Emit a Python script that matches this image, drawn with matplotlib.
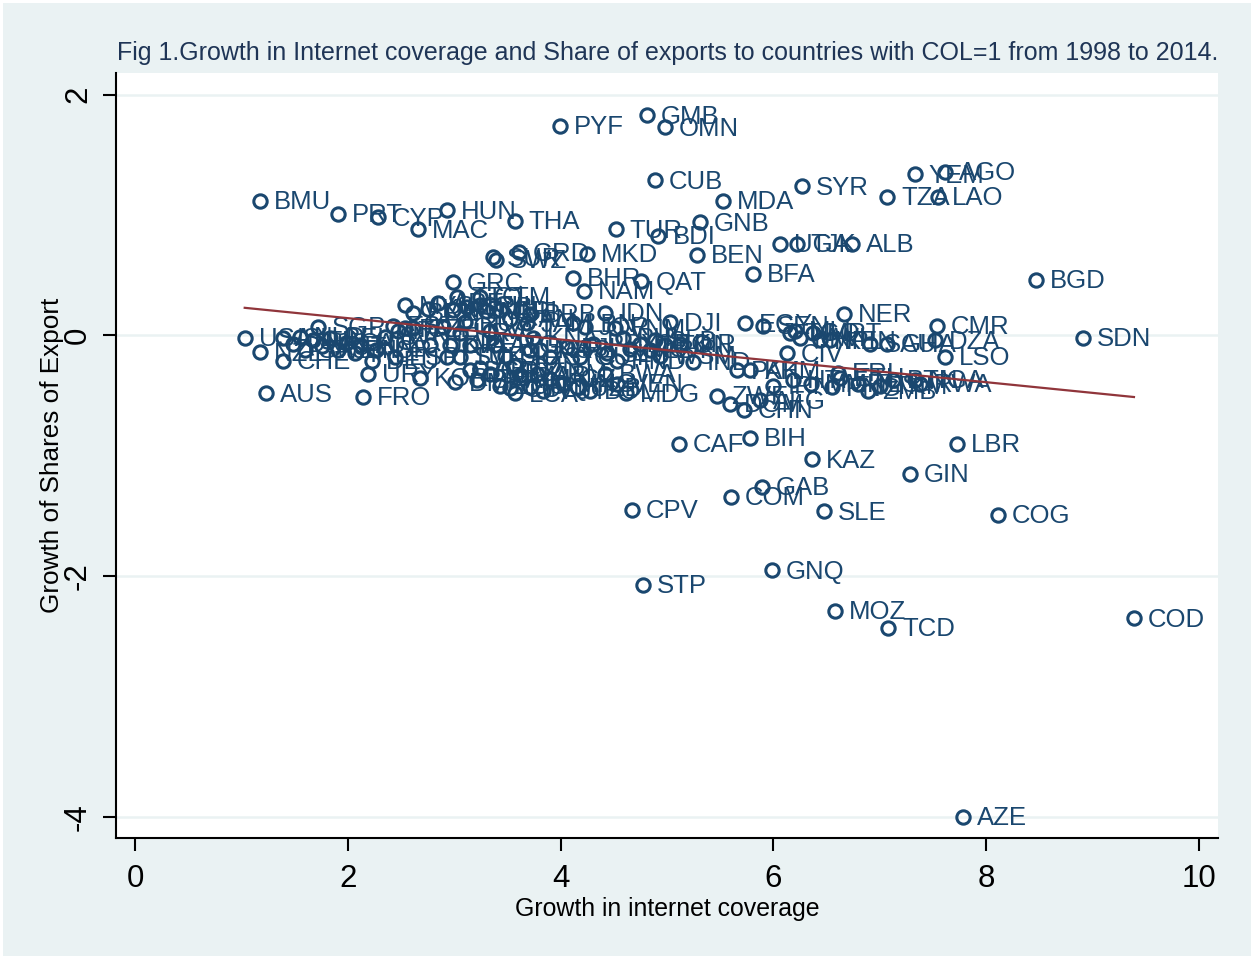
import matplotlib
matplotlib.use("Agg")
import matplotlib.pyplot as plt
import numpy as np

# Country codes with growth in internet coverage (x) and growth of export share (y)
codes = [
    "PYF", "GMB", "OMN", "CUB", "SYR", "YEM", "AGO", "TZA", "LAO", "MDA",
    "BMU", "PRT", "CYP", "MAC", "HUN", "THA", "TUR", "BDI", "GNB", "BEN",
    "UGA", "TJK", "ALB", "SUR", "SWZ", "GRD", "MKD", "BHR", "QAT", "NAM",
    "BFA", "BGD", "GRC", "NER", "CMR", "SDN", "SAU", "GHA", "DZA", "LSO",
    "CIV", "LBR", "KAZ", "GIN", "CAF", "BIH", "GAB", "COM", "CPV", "SLE",
    "COG", "GNQ", "STP", "MOZ", "TCD", "COD", "AZE", "AUS", "FRO", "USA",
    "NZL", "CHE", "SGP", "URY", "DJI", "EGY", "IND", "ZWE", "DOM", "CHN",
    "ZMB", "BWA", "MDG", "BOL", "LCA", "DMA", "KOR",
    "ISL", "DNK", "NLD", "SWE", "FIN", "AUT", "BEL", "JPN", "CAN", "IRL",
    "LUX", "ISR", "DEU", "ESP", "FRA", "ITA", "MYS", "BRN", "EST", "SVN",
    "CZE", "POL", "LVA", "LTU", "HRV", "SVK", "TTO", "GTM", "ROU", "CHL",
    "BGR", "ARG", "MEX", "BRA", "CRI", "PAN", "BRB", "JAM", "KNA", "VCT",
    "ATG", "BLZ", "TUN", "MAR", "ECU", "COL", "PER", "RUS", "UKR",
    "KWT", "ARE", "SRB", "MNE",
    "LBN", "JOR", "IDN", "VNM", "PHL", "LKA", "MUS", "SYC", "FJI", "GUY",
    "PRY", "SLV", "HND", "NIC", "GEO", "ARM", "KGZ", "MNG", "UZB", "VEN",
    "IRQ", "VUT", "SLB", "TON", "WSM", "KIR", "LBY",
    "SEN", "TGO", "MLI", "MWI", "MRT", "NPL", "KEN", "PAK", "KHM", "IRN",
    "HTI", "ETH", "ERI", "BTN", "NGA", "RWA", "AFG",
    "MMR", "PNG", "TLS", "TKM",
]

internet_growth = [
    3.99, 4.81, 4.98, 4.89, 6.27, 7.33, 7.61, 7.07, 7.55, 5.53,
    1.17, 1.91, 2.28, 2.66, 2.93, 3.57, 4.52, 4.92, 5.31, 5.28,
    6.06, 6.22, 6.74, 3.36, 3.39, 3.61, 4.25, 4.12, 4.76, 4.22,
    5.81, 8.47, 2.99, 6.66, 7.54, 8.91, 6.91, 7.07, 7.52, 7.61,
    6.13, 7.73, 6.36, 7.28, 5.11, 5.78, 5.89, 5.60, 4.67, 6.48,
    8.11, 5.99, 4.77, 6.58, 7.08, 9.39, 7.78, 1.23, 2.14, 1.03,
    1.17, 1.39, 1.72, 2.19, 5.03, 5.73, 5.24, 5.47, 5.59, 5.72,
    6.89, 4.42, 4.61, 4.28, 3.57, 3.01, 2.68,
    1.39, 1.48, 1.55, 1.60, 1.67, 1.76, 1.83, 1.91, 1.98, 2.07,
    2.11, 2.26, 2.23, 2.44, 2.54, 2.47, 2.54, 2.61, 2.42, 2.35,
    2.61, 2.89, 2.96, 2.93, 3.05, 3.05, 3.03, 3.24, 2.99, 3.24,
    3.15, 3.24, 3.34, 3.21, 3.43, 3.52, 3.71, 3.68, 3.74, 3.34,
    3.38, 3.48, 3.57, 3.62, 3.43, 3.52, 3.15, 3.10, 2.77,
    2.75, 2.85, 3.12, 3.30,
    4.12, 4.23, 4.42, 4.51, 4.59, 3.71, 3.81, 3.90, 4.06, 4.18,
    4.30, 4.44, 4.53, 4.65, 4.75, 3.78, 3.90, 4.02, 4.15, 4.53,
    3.71, 3.83, 4.89, 4.98, 4.93, 5.12, 4.84,
    5.90, 6.16, 6.20, 6.25, 6.37, 6.44, 6.53, 5.66, 5.78, 6.00,
    6.18, 6.63, 6.61, 7.12, 7.33, 7.38, 5.87,
    6.35, 6.55, 6.80, 7.00,
]

export_share_growth = [
    1.74, 1.83, 1.73, 1.29, 1.24, 1.34, 1.36, 1.15, 1.15, 1.12,
    1.12, 1.01, 0.98, 0.88, 1.04, 0.95, 0.88, 0.83, 0.94, 0.67,
    0.76, 0.76, 0.76, 0.65, 0.63, 0.69, 0.68, 0.48, 0.45, 0.37,
    0.51, 0.46, 0.44, 0.18, 0.08, -0.02, -0.07, -0.07, -0.04, -0.18,
    -0.15, -0.90, -1.03, -1.15, -0.90, -0.85, -1.26, -1.34, -1.45, -1.46,
    -1.49, -1.95, -2.07, -2.29, -2.43, -2.35, -4.00, -0.48, -0.51, -0.02,
    -0.14, -0.21, 0.07, -0.32, 0.11, 0.10, -0.22, -0.50, -0.57, -0.62,
    -0.46, -0.32, -0.48, -0.46, -0.48, -0.39, -0.35,
    -0.02, -0.07, -0.01, -0.12, -0.04, -0.09, -0.02, -0.12, -0.06, -0.15,
    -0.08, -0.12, -0.21, -0.18, 0.06, 0.04, 0.25, 0.19, 0.08, -0.01,
    0.06, 0.07, -0.08, -0.18, 0.02, -0.18, 0.32, 0.32, 0.21, 0.25,
    -0.29, -0.27, -0.32, -0.37, 0.21, 0.14, 0.18, 0.10, -0.02, 0.04,
    -0.08, -0.17, -0.25, -0.33, -0.42, -0.44, -0.08, 0.11, -0.08,
    0.22, 0.27, 0.24, 0.20,
    0.10, 0.07, 0.19, 0.06, -0.02, -0.12, -0.12, -0.18, -0.10, -0.18,
    -0.07, -0.15, -0.21, -0.11, -0.07, -0.32, -0.36, -0.40, -0.43, -0.40,
    -0.43, -0.46, -0.04, -0.08, -0.17, -0.07, -0.12,
    0.08, 0.02, 0.04, -0.02, 0.02, -0.04, -0.04, -0.29, -0.29, -0.42,
    -0.37, -0.35, -0.31, -0.37, -0.37, -0.40, -0.54,
    -0.40, -0.43, -0.40, -0.42,
]

x_ticks = [0, 2, 4, 6, 8, 10]
y_ticks = [-4, -2, 0, 2]

title_text = ("Fig 1.Growth in Internet coverage and Share of exports to "
              "countries with COL=1 from 1998 to 2014.")
x_label = "Growth in internet coverage"
y_label = "Growth of Shares of Export"

navy = "#1a476f"
maroon = "#90353b"
region_bg = "#eaf2f3"

plt.rcParams["font.family"] = ["Liberation Sans", "DejaVu Sans"]

fig = plt.figure(figsize=(12.53, 9.61), dpi=100, facecolor="white")
fig.patches.append(plt.Rectangle((3 / 1253, 5 / 961), 1248 / 1253, 953 / 961,
                                 transform=fig.transFigure, facecolor=region_bg,
                                 edgecolor="none", zorder=-10))

ax = fig.add_axes([116 / 1253, 123 / 961, 1102 / 1253, 765 / 961])
ax.set_facecolor("white")

x = np.array(internet_growth)
y = np.array(export_share_growth)

ax.set_xlim(-0.18, 10.18)
ax.set_ylim(-4.175, 2.18)

for yt in y_ticks:
    ax.axhline(yt, color=region_bg, lw=1.8, zorder=0)

ax.plot(x, y, linestyle="none", marker="o", markersize=9.6,
        markerfacecolor="none", markeredgecolor=navy, markeredgewidth=2.2,
        zorder=3)

for c, xi, yi in zip(codes, x, y):
    ax.annotate(c, (xi, yi), xytext=(10, -1), textcoords="offset points",
                ha="left", va="center", fontsize=18.5, color=navy, zorder=4)

# Linear fit line over the observed range of x
slope, intercept = np.polyfit(x, y, 1)
xf = np.array([x.min(), x.max()])
ax.plot(xf, intercept + slope * xf, color=maroon, lw=1.6, zorder=5)

for side in ("top", "right"):
    ax.spines[side].set_visible(False)
for side in ("left", "bottom"):
    ax.spines[side].set_linewidth(1.5)
    ax.spines[side].set_color("black")

ax.set_xticks(x_ticks)
ax.set_yticks(y_ticks)
ax.set_yticklabels([str(v) for v in y_ticks], rotation=90, va="center")
ax.tick_params(axis="both", length=9.5, width=1.5, labelsize=22.5,
               colors="black")
ax.tick_params(axis="x", pad=9)
ax.tick_params(axis="y", pad=7)

ax.set_xlabel(x_label, fontsize=17.9)
ax.set_ylabel(y_label, fontsize=18.8)
ax.xaxis.set_label_coords(0.5, -0.077)
ax.yaxis.set_label_coords(-0.047, 0.5)

fig.text(117 / 1253, 1 - 53 / 961, title_text, fontsize=18, color="#1f3556",
         ha="left", va="center")

fig.savefig("out.png", dpi=100, facecolor=fig.get_facecolor())
